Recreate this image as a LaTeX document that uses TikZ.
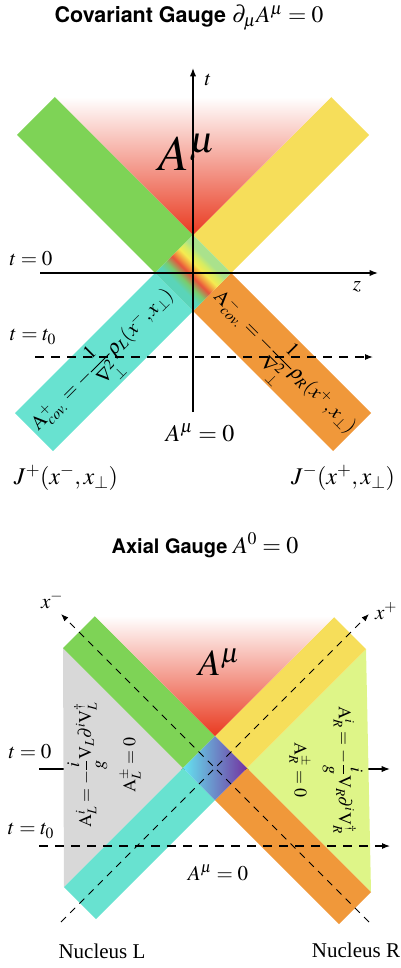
\documentclass[tikz,border=0pt]{standalone}
\usepackage{amsmath}
\usepackage{mathptmx}
\usepackage[no-math]{fontspec}
\setmainfont{Liberation Serif}
\setsansfont{TeX Gyre Heros}
\usepackage{xcolor}
\usepackage{tikz}
\usetikzlibrary{positioning,arrows.meta}
\definecolor{bandgreen}{RGB}{126,211,86}
\definecolor{bandyellow}{RGB}{246,222,90}
\definecolor{bandcyan}{RGB}{104,226,208}
\definecolor{bandorange}{RGB}{240,152,58}
\definecolor{wedgered}{RGB}{233,58,32}
\definecolor{nucgray}{RGB}{216,216,216}
\definecolor{nuclime}{RGB}{222,245,136}
\definecolor{sqcyan}{RGB}{100,228,240}
\definecolor{sqblue}{RGB}{72,130,200}
\definecolor{sqpurple}{RGB}{115,50,160}
\definecolor{rbteal}{RGB}{90,212,185}
\definecolor{rbgreen}{RGB}{120,205,110}
\definecolor{rbred}{RGB}{232,82,60}
\definecolor{rborange}{RGB}{242,152,62}
\definecolor{rbyellow}{RGB}{245,235,80}
\definecolor{rblime}{RGB}{212,236,100}
\definecolor{rbpale}{RGB}{170,226,140}
\pgfdeclarehorizontalshading{rainbow}{100bp}{color(0bp)=(rbteal); color(37.5bp)=(rbteal);
  color(42.5bp)=(rbgreen); color(48bp)=(rbred); color(51bp)=(rborange);
  color(55bp)=(rbyellow); color(59bp)=(rblime); color(62.5bp)=(rbpale); color(100bp)=(rbpale)}
\newcommand{\fs}[1]{\fontsize{#1}{#1}\selectfont}

\begin{document}
\begin{tikzpicture}[
      x=1pt, y=-1pt, >=Latex,
      axis/.style={line width=1.2pt},
      dashtop/.style={line width=1.1pt, dash pattern=on 9pt off 7pt},
      dashbot/.style={line width=1pt, dash pattern=on 7pt off 6pt},
      lab/.style={font=\fs{21}, inner sep=0pt},
      big/.style={font=\fs{24}, inner sep=0pt},
      head/.style={font=\fs{21.5}\sffamily\bfseries, inner sep=0pt, anchor=base},
      bandlab/.style={font=\fs{20}, inner sep=0pt},
      rotlab/.style={font=\fs{18}, inner sep=0pt, align=center},
    ]
    \useasboundingbox (0,0) rectangle (401,968);

    % ---------- covariant gauge ----------
    \node[head] (covtitle) at (189,23) {Covariant Gauge {\fs{23.5}$\partial_\mu A^\mu=0$}};

    \begin{scope}[shift={(193,273)}]
      \coordinate (T1) at (0,-38);
      \coordinate (L1) at (-38,0);
      \coordinate (R1) at (38,0);
      \coordinate (B1) at (0,38);
      \coordinate (G1a) at (-176,-138);
      \coordinate (G1b) at (-138,-176);
      \coordinate (Y1a) at (138,-176);
      \coordinate (Y1b) at (176,-138);
      \coordinate (C1a) at (-178,140);
      \coordinate (C1b) at (-140,178);
      \coordinate (O1a) at (178,140);
      \coordinate (O1b) at (140,178);
    \end{scope}

    \fill[bandgreen] (T1) -- (L1) -- (G1a) -- (G1b) -- cycle;
    \fill[bandyellow] (T1) -- (R1) -- (Y1b) -- (Y1a) -- cycle;
    \fill[bandcyan] (L1) -- (B1) -- (C1b) -- (C1a) -- cycle;
    \fill[bandorange] (R1) -- (B1) -- (O1b) -- (O1a) -- cycle;
    \shade[top color=white, bottom color=wedgered] (T1) -- (G1b) -- (Y1a) -- cycle;
    \shade[shading=rainbow, shading angle=45] (T1) -- (L1) -- (B1) -- (R1) -- cycle;

    \coordinate (ttop) at (193,68);
    \coordinate (tbot) at (193,412);
    \coordinate (zleft) at (40,273);
    \coordinate (zright) at (378,273);
    \coordinate (t0left) at (35,357);
    \coordinate (t0right) at (373,357);
    \draw[axis,->] (tbot) -- (ttop);
    \draw[axis,->] (zleft) -- (zright);
    \draw[dashtop,->] (t0left) -- (t0right);

    \node[lab] (tlab) at (208,80) {$t$};
    \node[lab] (zlab) at (357,287) {$z$};
    \node[lab] (tzero) at (31,259) {$t=0$};
    \node[lab] (ttzero) at (33,337) {$t=t_0$};
    \node[font=\fs{50}, inner sep=0pt] (Atop) at (187,152) {$A^\mu$};
    \node[big] (Azerotop) at (200,433) {$A^\mu=0$};
    \node[big] (Jplus) at (66,478) {$J^+(x^-,x_\perp)$};
    \node[big] (Jminus) at (343,478) {$J^-(x^+,x_\perp)$};
    \node[bandlab, rotate=45] (cyanlab) at (104,362)
      {$\mathrm{A}^+_{cov.}=-\dfrac{1}{\nabla_\perp^2}\rho_L(x^-,x_\perp)$};
    \node[bandlab, rotate=-45] (orangelab) at (283,364)
      {$\mathrm{A}^-_{cov.}=-\dfrac{1}{\nabla_\perp^2}\rho_R(x^+,x_\perp)$};

    % ---------- axial gauge ----------
    \node[head, font=\fs{20}\sffamily\bfseries] (axtitle) at (205,553) {Axial Gauge {\fs{24}$A^0=0$}};

    \begin{scope}[shift={(215,768)}]
      \coordinate (T2) at (0,-32);
      \coordinate (L2) at (-32,0);
      \coordinate (R2) at (32,0);
      \coordinate (B2) at (0,32);
      \coordinate (G2a) at (-152,-120);
      \coordinate (G2b) at (-120,-152);
      \coordinate (Y2a) at (119,-151);
      \coordinate (Y2b) at (151,-119);
      \coordinate (C2a) at (-151,119);
      \coordinate (C2b) at (-119,151);
      \coordinate (O2a) at (156,124);
      \coordinate (O2b) at (124,156);
      \coordinate (xmtip) at (-154,-154);
      \coordinate (xmend) at (154,154);
      \coordinate (xptip) at (154,-154);
      \coordinate (xpend) at (-154,154);
    \end{scope}

    \coordinate (zeroleft) at (39,769);
    \coordinate (zeroright) at (390,769);
    \draw[axis,->] (zeroleft) -- (zeroright);

    \fill[nucgray] (G2a) -- (L2) -- (C2a) -- cycle;
    \fill[nuclime] (Y2b) -- (R2) -- (O2a) -- cycle;
    \fill[bandgreen] (T2) -- (L2) -- (G2a) -- (G2b) -- cycle;
    \fill[bandyellow] (T2) -- (R2) -- (Y2b) -- (Y2a) -- cycle;
    \fill[bandcyan] (L2) -- (B2) -- (C2b) -- (C2a) -- cycle;
    \fill[bandorange] (R2) -- (B2) -- (O2b) -- (O2a) -- cycle;
    \shade[top color=white, bottom color=wedgered] (T2) -- (G2b) -- (Y2a) -- cycle;
    \shade[left color=sqcyan, middle color=sqblue, right color=sqpurple]
      (T2) -- (L2) -- (B2) -- (R2) -- cycle;

    \draw[dashbot,->] (xmend) -- (xmtip);
    \draw[dashbot,->] (xpend) -- (xptip);

    \coordinate (tzleft) at (39,846);
    \coordinate (tzright) at (390,846);
    \draw[dashtop,->] (tzleft) -- (tzright);

    \node[lab] (xmlab) at (52,600) {$x^-$};
    \node[lab] (xplab) at (386,611) {$x^+$};
    \node[font=\fs{37}, inner sep=0pt] (Abot) at (219,662) {$A^\mu$};
    \node[lab] (tzerob) at (30,752) {$t=0$};
    \node[lab] (ttzerob) at (31,831) {$t=t_0$};
    \node[lab] (Azerobot) at (218,873) {$A^\mu=0$};
    \node[rotlab, rotate=90] (leftlab) at (104,765)
      {$\mathrm{A}_L^i=-\dfrac{i}{g}\mathrm{V}_L\partial^i\mathrm{V}_L^\dagger$\\[12pt]$\mathrm{A}_L^\pm=0$};
    \node[rotlab, rotate=-90] (rightlab) at (326,770)
      {$\mathrm{A}_R^i=-\dfrac{i}{g}\mathrm{V}_R\partial^i\mathrm{V}_R^\dagger$\\[12pt]$\mathrm{A}_R^\pm=0$};
    \node[font=\fs{21}, inner sep=0pt] (nucL) at (102,951) {Nucleus L};
    \node[font=\fs{21}, inner sep=0pt] (nucR) at (356,950) {Nucleus R};
  \end{tikzpicture}
\end{document}
